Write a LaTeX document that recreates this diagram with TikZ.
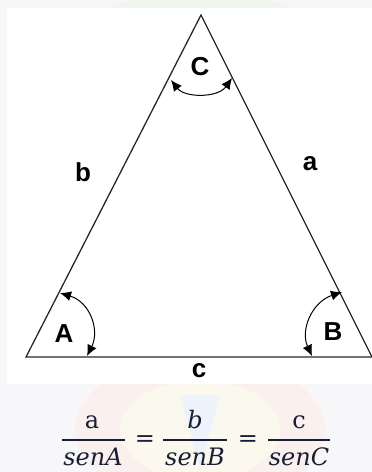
\documentclass[tikz,border=0pt]{standalone}
\usepackage{fontspec}
\setmainfont{DejaVu Serif}
\newfontfamily\labelfont{Liberation Sans}
\usetikzlibrary{arrows.meta}
\definecolor{edge}{RGB}{40,40,40}
\definecolor{formula}{RGB}{25,30,55}
\definecolor{wmbg}{RGB}{247,246,249}
\definecolor{wmred}{RGB}{250,241,239}
\definecolor{wmyel}{RGB}{251,249,238}
\definecolor{wmgrn}{RGB}{240,245,238}
\definecolor{wmblu}{RGB}{236,243,250}
\tikzset{
  side/.style={draw=edge, line width=1.3pt},
  anglearrow/.style={draw=black, line width=1pt, {Latex[length=11pt,width=10pt]}-{Latex[length=11pt,width=10pt]}},
  vlabel/.style={font=\labelfont\bfseries\fontsize{26}{26}\selectfont, inner sep=0pt},
  flabel/.style={font=\fontsize{24}{24}\selectfont, text=formula, inner sep=0pt, anchor=base},
  fline/.style={draw=formula, line width=1.6pt}
}
\begin{document}
\begin{tikzpicture}[x=1pt,y=-1pt]
\useasboundingbox (0,0) rectangle (372,472);
% faint watermark background
\fill[wmbg] (0,0) rectangle (372,472);
\fill[wmred] (200,430) ellipse (125 and 75);
\fill[wmyel] (200,430) ellipse (80 and 50);
\fill[wmgrn] (200,10) ellipse (90 and 14);
\fill[wmblu] (180,395) -- (200,470) -- (220,395) -- cycle;
\fill[white] (7,8) rectangle (372,384);
% triangle
\coordinate (A) at (26,357);
\coordinate (B) at (372,357);
\coordinate (C) at (201,15);
\draw[side] (A) -- (B) -- (C) -- cycle;
% angle arrows
\coordinate (a1) at (60,293);
\coordinate (a2) at (87,356);
\draw[anglearrow] (a1) .. controls (90,302) and (100,330) .. (a2);
\coordinate (b1) at (342,292);
\coordinate (b2) at (312,356);
\draw[anglearrow] (b1) .. controls (312,302) and (300,330) .. (b2);
\coordinate (c1) at (171,80);
\coordinate (c2) at (232,78);
\draw[anglearrow] (c1) .. controls (185,98) and (218,98) .. (c2);
% vertex labels
\node[vlabel] (LA) at (64,334) {A};
\node[vlabel] (LB) at (333,332) {B};
\node[vlabel] (LC) at (200,67) {C};
% side labels
\node[vlabel] (La) at (310,164) {a};
\node[vlabel] (Lb) at (83,172) {b};
\node[vlabel] (Lc) at (199,371) {c};
% law of sines
\node[flabel] (n1) at (92,428) {a};
\node[flabel] (n2) at (195,428) {\itshape b};
\node[flabel] (n3) at (299,428) {c};
\coordinate (f1l) at (62,440); \coordinate (f1r) at (125,440);
\coordinate (f2l) at (163,440); \coordinate (f2r) at (227,440);
\coordinate (f3l) at (268,440); \coordinate (f3r) at (330,440);
\draw[fline] (f1l) -- (f1r);
\draw[fline] (f2l) -- (f2r);
\draw[fline] (f3l) -- (f3r);
\node[flabel] (d1) at (93,465) {\itshape senA};
\node[flabel] (d2) at (195,465) {\itshape senB};
\node[flabel] (d3) at (299,465) {\itshape senC};
\node[flabel, anchor=center] (e1) at (145,441) {=};
\node[flabel, anchor=center] (e2) at (248,441) {=};
\end{tikzpicture}
\end{document}
